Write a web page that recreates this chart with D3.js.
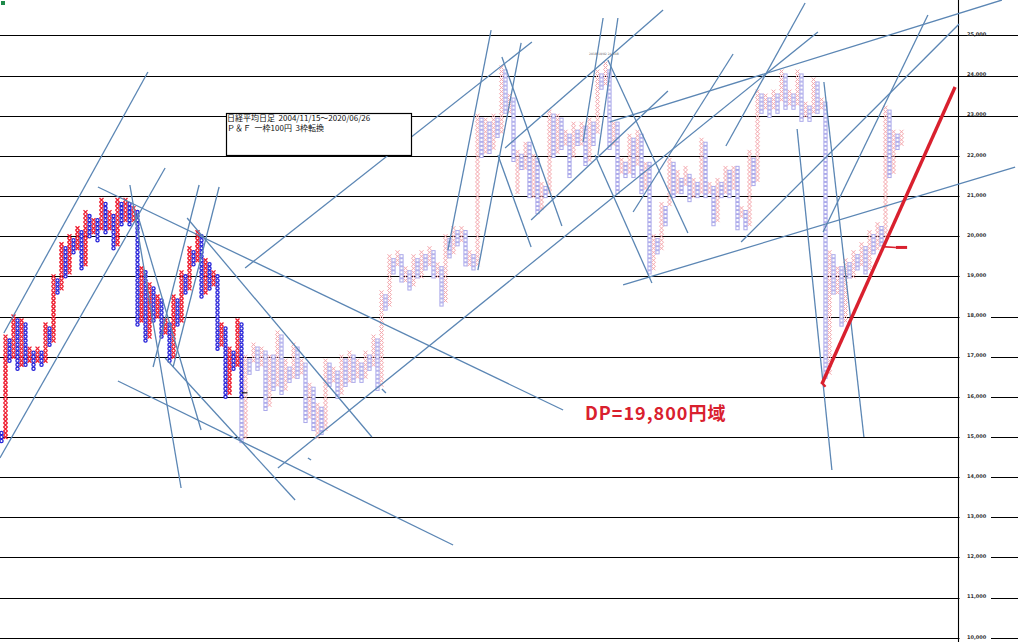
<!DOCTYPE html>
<html>
<head>
<meta charset="utf-8">
<script src="https://cdn.jsdelivr.net/npm/d3@7"></script>
<style>
	html, body { margin: 0; padding: 0; background: #fff; }
	svg { display: block; }
</style>
</head>
<body>
<svg id="chart" width="1018" height="642"></svg>
<script>
// price ticks on the right hand axis
const tickPrices = [25000, 24000, 23000, 22000, 21000, 20000, 19000, 18000, 17000, 16000, 15000, 14000, 13000, 12000, 11000, 10000];

// P&F columns, even index = O column, odd index = X column
const columnHighs = [
	15100, 17500, 17400, 18000, 17900, 17900, 17800, 17200, 17100, 17200,
	17100, 17800, 17700, 19000, 18900, 19800, 19700, 20000, 19900, 20200,
	20100, 20600, 20500, 20400, 20400, 20900, 20800, 20600, 20500, 20900,
	20800, 20900, 20800, 20700, 20600, 19200, 19100, 18800, 18700, 18500,
	18400, 17900, 17800, 18500, 18400, 19100, 19000, 19700, 19600, 20100,
	20000, 19400, 19300, 19100, 19000, 17800, 17700, 17200, 17100, 17900,
	17800, 17000, 16900, 17300, 17200, 17200, 17100, 17000, 17000, 17600,
	17500, 16900, 16700, 17300, 17200, 16900, 16800, 16300, 16200, 15800,
	15700, 16900, 16800, 16700, 16600, 17000, 16900, 17100, 17000, 16900,
	16800, 17100, 17000, 17500, 17400, 18600, 18500, 19500, 19400, 19600,
	19500, 19200, 19100, 19500, 19400, 19600, 19500, 19700, 19600, 19300,
	19200, 20000, 19900, 20200, 20100, 20200, 20100, 19600, 19500, 23000,
	22900, 22900, 22800, 23000, 22900, 24200, 24100, 23500, 23400, 22100,
	22000, 22300, 22300, 22000, 21900, 21300, 21200, 23100, 23000, 23000,
	22900, 22600, 22500, 22800, 22600, 22800, 22700, 22900, 22800, 24100,
	24000, 24300, 24100, 22800, 22800, 21900, 21800, 22500, 22400, 22600,
	22500, 21800, 21800, 20000, 19900, 20800, 20700, 21900, 21800, 21600,
	21400, 21700, 21500, 21400, 21300, 22400, 22300, 21300, 21200, 21400,
	21300, 21700, 21600, 21700, 21700, 20700, 20600, 22100, 21900, 23600,
	23500, 23500, 23400, 23600, 23500, 24100, 24000, 23600, 23500, 24100,
	24000, 23300, 23200, 23900, 23800, 23400, 23300, 19600, 19500, 19200,
	19200, 19400, 19300, 19600, 19500, 19800, 19700, 20100, 20000, 20300,
	20200, 23200, 23100, 22600, 22500, 22600
];
const columnLows = [
	14900, 15000, 16900, 17000, 16700, 16800, 16800, 16900, 16700, 16900,
	16800, 16900, 17300, 17400, 18600, 18700, 19000, 19100, 19600, 19700,
	19200, 19300, 20000, 20100, 19900, 20200, 20100, 20200, 19700, 19800,
	20300, 20400, 20300, 20400, 17800, 17900, 17400, 17500, 17900, 18000,
	17500, 17600, 16900, 17000, 17800, 17900, 18600, 18700, 19300, 19400,
	18500, 18600, 18700, 18800, 17200, 17300, 16000, 16100, 16700, 16800,
	14900, 15000, 16600, 16900, 16700, 16800, 15700, 15800, 16200, 16300,
	16100, 16200, 16400, 16500, 16500, 16600, 15400, 15500, 15200, 15000,
	15100, 15200, 16300, 16400, 16000, 16100, 16300, 16400, 16400, 16500,
	16400, 16500, 16700, 16800, 16200, 16300, 18200, 18300, 19100, 19300,
	18900, 18900, 18700, 18800, 19000, 19000, 19200, 19300, 19000, 19000,
	18300, 18400, 19500, 19600, 19800, 19900, 19300, 19300, 19200, 19300,
	22000, 22100, 22100, 22200, 22500, 22600, 23100, 23100, 21900, 21100,
	21700, 21700, 21000, 21000, 20600, 20700, 21000, 21100, 22000, 22100,
	22200, 22300, 21500, 22000, 22300, 22300, 21800, 21900, 22300, 22600,
	23700, 23800, 22200, 22300, 21100, 21600, 21500, 21600, 21500, 21800,
	21100, 21200, 19100, 19200, 19600, 19700, 20300, 20800, 21000, 21100,
	21100, 21300, 20900, 21000, 21000, 21100, 21000, 21100, 20300, 20400,
	21000, 21100, 21000, 21200, 20200, 20500, 20200, 20300, 21300, 21400,
	23100, 23200, 23000, 23200, 23100, 23400, 23200, 23300, 23200, 23300,
	22900, 23000, 22900, 23100, 23100, 23200, 16500, 16600, 18600, 18600,
	17800, 17900, 19000, 19000, 19200, 19300, 19100, 19200, 19600, 19700,
	19800, 20000, 21500, 21600, 22200, 22300
];
// columns up to here are drawn strong, the rest of the history is faded
const strongLastColumn = 60;
const strongLastPrice = 16000;

// trend lines: column, price, column, price
const trendLines = [
	[0.6, 17590, 36.6, 24090], [-0.4, 14477, 40.9, 21698], [24.1, 21225, 140.4, 15672],
	[32.1, 21275, 44.9, 13730], [33.9, 20578, 49.9, 15174], [49.4, 21275, 37.9, 16743],
	[54.4, 21225, 42.9, 16743], [46.4, 20453, 92.6, 15000], [40.9, 16967, 73.4, 13431],
	[29.1, 16395, 112.9, 12311], [60.9, 19208, 132.6, 24836], [69.1, 14228, 204.1, 25085],
	[132.4, 20403, 166.6, 23616], [125.9, 22196, 165.4, 25632], [157.9, 20603, 182.9, 24537],
	[152.1, 22844, 250.1, 25881], [155.4, 18785, 253.4, 21723], [181.1, 22246, 200.9, 25807],
	[184.9, 19856, 239.4, 25284], [205.4, 20105, 231.6, 25508], [205.6, 23840, 215.6, 15000],
	[198.9, 22669, 207.6, 14178], [122.4, 25134, 111.6, 19656], [129.9, 24811, 119.1, 19158],
	[125.1, 24462, 140.1, 20254], [124.1, 22022, 132.4, 19731], [150.4, 25433, 145.4, 22346],
	[154.1, 25433, 149.1, 22022], [151.6, 24387, 171.6, 20080], [148.4, 22022, 162.6, 18835],
	[95.1, 16195, 96.1, 16096], [76.6, 14477, 77.4, 14427]
];
const redLines = [
	[205.1, 16320, 238.4, 23715, 3.4],
	[205.0, 16360, 206.0, 16250, 2.4],
	[220.1, 19740, 223.6, 19720, 1.6],
	[223.6, 19720, 226.4, 19720, 3]
];

const titleLines = ["日経平均日足  2004/11/15～2020/06/26", "Ｐ＆Ｆ  一枠100円  3枠転換"];
const calloutText = "DP=19,800円域";
const peakLabel = "2018/10/02 24,448";

const svg = d3.select("#chart");
const xScale = d3.scaleLinear().domain([0, 225]).range([1.5, 901.5]);
const yScale = d3.scaleLinear().domain([25000, 10000]).range([35.4, 637.8]);
const priceFormat = d3.format(",");
const jpFont = "'Noto Sans CJK JP', sans-serif";

svg.append("rect").attr("x", 1).attr("y", 1).attr("width", 4).attr("height", 4).attr("fill", "#1e8a4a");

// grid
svg.append("g")
	.selectAll("line")
	.data(tickPrices)
	.enter()
	.append("line")
	.attr("x1", 0)
	.attr("x2", 1018)
	.attr("y1", (d) => Math.round(yScale(d)) + 0.5)
	.attr("y2", (d) => Math.round(yScale(d)) + 0.5)
	.attr("stroke", "#000")
	.attr("stroke-width", 1.1);

// lines 22,000 to 19,000 stop at the axis, the lower ones leave a gap for the label
svg.append("g")
	.selectAll("rect")
	.data(tickPrices.filter((d) => d <= 22000))
	.enter()
	.append("rect")
	.attr("x", 959.5)
	.attr("width", (d) => (d >= 19000 ? 59 : 31.5))
	.attr("y", (d) => yScale(d) - 3)
	.attr("height", 7)
	.attr("fill", "#fff");

svg.append("line")
	.attr("x1", 958.5)
	.attr("x2", 958.5)
	.attr("y1", 0)
	.attr("y2", 642)
	.attr("stroke", "#000")
	.attr("stroke-width", 1.1);

svg.append("g")
	.selectAll("text")
	.data(tickPrices)
	.enter()
	.append("text")
	.attr("x", 967)
	.attr("y", (d) => yScale(d) + 0.7)
	.attr("font-family", "'DejaVu Sans', sans-serif")
	.attr("font-size", 5)
	.attr("font-weight", "bold")
	.attr("fill", "#333")
	.text((d) => priceFormat(d));

// build the boxes of all columns
const cells = [];
columnHighs.forEach((high, i) => {
	for (let p = columnLows[i]; p <= high; p += 100) {
		const strong = i < strongLastColumn || (i === strongLastColumn && p >= strongLastPrice);
		cells.push({ col: i, price: p, isX: i % 2 === 1, strong: strong });
	}
});

const cellGroup = svg.append("g");

cellGroup
	.selectAll(".x")
	.data(cells.filter((d) => d.isX))
	.enter()
	.append("path")
	.attr("class", "x")
	.attr("transform", (d) => `translate(${xScale(d.col)}, ${yScale(d.price)})`)
	.attr("d", "M-2,-2L2,2M-2,2L2,-2")
	.attr("fill", "none")
	.attr("stroke", (d) => (d.strong ? "#ee1c2e" : "#f4a6ac"))
	.attr("stroke-width", (d) => (d.strong ? 1.3 : 1));

cellGroup
	.selectAll(".ring")
	.data(cells.filter((d) => !d.isX && d.strong))
	.enter()
	.append("circle")
	.attr("class", "ring")
	.attr("cx", (d) => xScale(d.col))
	.attr("cy", (d) => yScale(d.price))
	.attr("r", 1.6)
	.attr("fill", "#fff")
	.attr("stroke", "#2420d8")
	.attr("stroke-width", 1.3);

cellGroup
	.selectAll(".square")
	.data(cells.filter((d) => !d.isX && !d.strong))
	.enter()
	.append("rect")
	.attr("class", "square")
	.attr("x", (d) => xScale(d.col) - 1.6)
	.attr("y", (d) => yScale(d.price) - 1.6)
	.attr("width", 3.2)
	.attr("height", 3.2)
	.attr("fill", "#fff")
	.attr("stroke", "#aaa8ea")
	.attr("stroke-width", 1);

// small tick at the end of the strong part
svg.append("line")
	.attr("x1", xScale(60))
	.attr("x2", xScale(61.5))
	.attr("y1", yScale(16100))
	.attr("y2", yScale(16100))
	.attr("stroke", "#000");

svg.append("g")
	.selectAll("line")
	.data(trendLines)
	.enter()
	.append("line")
	.attr("x1", (d) => xScale(d[0]))
	.attr("y1", (d) => yScale(d[1]))
	.attr("x2", (d) => xScale(d[2]))
	.attr("y2", (d) => yScale(d[3]))
	.attr("stroke", "#5b86b4")
	.attr("stroke-width", 1.3);

svg.append("g")
	.selectAll("line")
	.data(redLines)
	.enter()
	.append("line")
	.attr("x1", (d) => xScale(d[0]))
	.attr("y1", (d) => yScale(d[1]))
	.attr("x2", (d) => xScale(d[2]))
	.attr("y2", (d) => yScale(d[3]))
	.attr("stroke", "#d9202e")
	.attr("stroke-width", (d) => d[4]);

// title box
svg.append("rect")
	.attr("x", 226.5)
	.attr("y", 113.5)
	.attr("width", 185)
	.attr("height", 42)
	.attr("fill", "#fff")
	.attr("stroke", "#000")
	.attr("stroke-width", 1.2);

svg.append("g")
	.selectAll("text")
	.data(titleLines)
	.enter()
	.append("text")
	.attr("x", 227)
	.attr("y", (d, i) => 120.5 + i * 10.7)
	.attr("font-family", jpFont)
	.attr("font-size", 8)
	.style("white-space", "pre")
	.attr("fill", "#111")
	.text((d) => d);

svg.append("text")
	.attr("x", 589)
	.attr("y", 54.5)
	.attr("font-family", "'DejaVu Sans', sans-serif")
	.attr("font-size", 3.1)
	.attr("fill", "#666")
	.text(peakLabel);

svg.append("text")
	.attr("x", 585)
	.attr("y", 420)
	.attr("font-family", jpFont)
	.attr("font-size", 18)
	.attr("letter-spacing", 1)
	.attr("font-weight", "bold")
	.attr("fill", "#d9202e")
	.text(calloutText);
</script>
</body>
</html>
